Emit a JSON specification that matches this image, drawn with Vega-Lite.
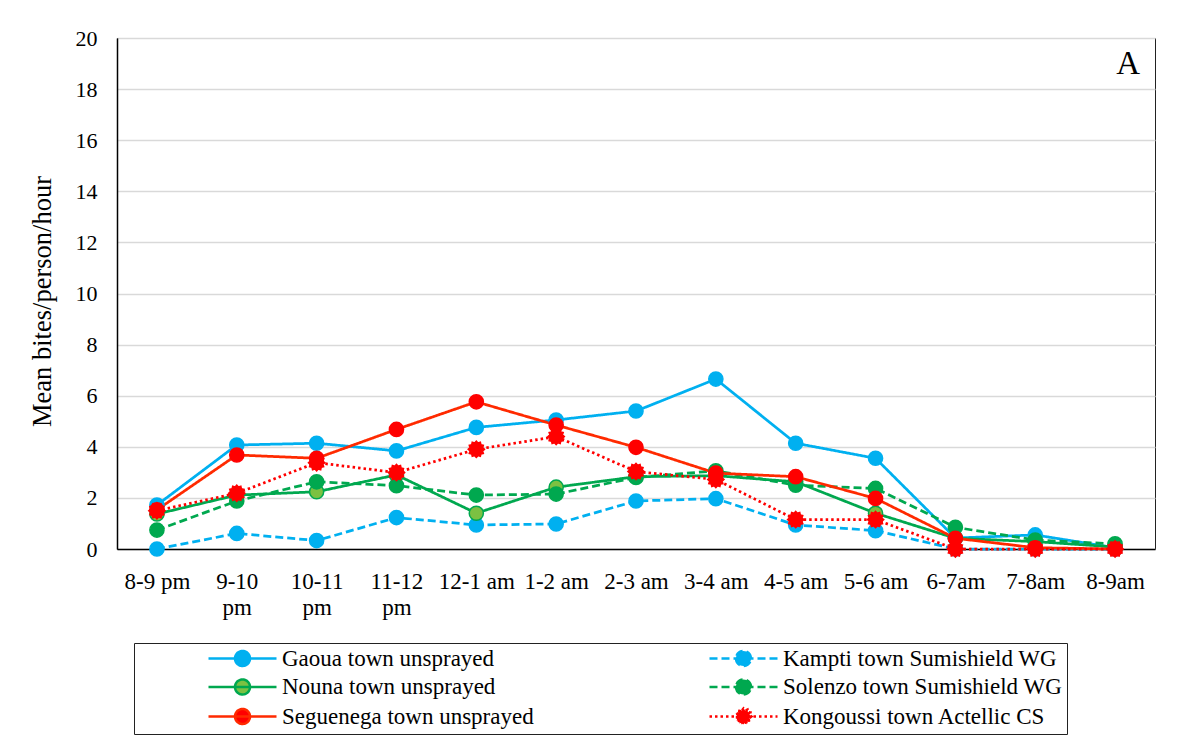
{
  "$schema": "https://vega.github.io/schema/vega-lite/v6.json",
  "width": 1038,
  "height": 511,
  "autosize": {"type": "none"},
  "padding": {"left": 117, "top": 38, "right": 36, "bottom": 195},
  "background": "white",
  "title": {
    "text": "A",
    "anchor": "end",
    "frame": "group",
    "orient": "top",
    "offset": -36,
    "baseline": "alphabetic",
    "dx": -15,
    "dy": 44,
    "font": "Liberation Serif",
    "fontSize": 33,
    "fontWeight": "normal",
    "color": "black"
  },
  "data": {
    "values": [
      {"time": "8-9 pm", "series": "Gaoua town unsprayed", "bites": 1.72},
      {"time": "9-10 pm", "series": "Gaoua town unsprayed", "bites": 4.07},
      {"time": "10-11 pm", "series": "Gaoua town unsprayed", "bites": 4.14},
      {"time": "11-12 pm", "series": "Gaoua town unsprayed", "bites": 3.84},
      {"time": "12-1 am", "series": "Gaoua town unsprayed", "bites": 4.76},
      {"time": "1-2 am", "series": "Gaoua town unsprayed", "bites": 5.05},
      {"time": "2-3 am", "series": "Gaoua town unsprayed", "bites": 5.4},
      {"time": "3-4 am", "series": "Gaoua town unsprayed", "bites": 6.65},
      {"time": "4-5 am", "series": "Gaoua town unsprayed", "bites": 4.14},
      {"time": "5-6 am", "series": "Gaoua town unsprayed", "bites": 3.55},
      {"time": "6-7am", "series": "Gaoua town unsprayed", "bites": 0.43},
      {"time": "7-8am", "series": "Gaoua town unsprayed", "bites": 0.55},
      {"time": "8-9am", "series": "Gaoua town unsprayed", "bites": 0.05},

      {"time": "8-9 pm", "series": "Kampti town Sumishield WG", "bites": 0},
      {"time": "9-10 pm", "series": "Kampti town Sumishield WG", "bites": 0.61},
      {"time": "10-11 pm", "series": "Kampti town Sumishield WG", "bites": 0.33},
      {"time": "11-12 pm", "series": "Kampti town Sumishield WG", "bites": 1.23},
      {"time": "12-1 am", "series": "Kampti town Sumishield WG", "bites": 0.94},
      {"time": "1-2 am", "series": "Kampti town Sumishield WG", "bites": 0.98},
      {"time": "2-3 am", "series": "Kampti town Sumishield WG", "bites": 1.88},
      {"time": "3-4 am", "series": "Kampti town Sumishield WG", "bites": 1.97},
      {"time": "4-5 am", "series": "Kampti town Sumishield WG", "bites": 0.94},
      {"time": "5-6 am", "series": "Kampti town Sumishield WG", "bites": 0.72},
      {"time": "6-7am", "series": "Kampti town Sumishield WG", "bites": 0},
      {"time": "7-8am", "series": "Kampti town Sumishield WG", "bites": 0},
      {"time": "8-9am", "series": "Kampti town Sumishield WG", "bites": 0},

      {"time": "8-9 pm", "series": "Nouna town unsprayed", "bites": 1.37},
      {"time": "9-10 pm", "series": "Nouna town unsprayed", "bites": 2.11},
      {"time": "10-11 pm", "series": "Nouna town unsprayed", "bites": 2.24},
      {"time": "11-12 pm", "series": "Nouna town unsprayed", "bites": 2.9},
      {"time": "12-1 am", "series": "Nouna town unsprayed", "bites": 1.4},
      {"time": "1-2 am", "series": "Nouna town unsprayed", "bites": 2.42},
      {"time": "2-3 am", "series": "Nouna town unsprayed", "bites": 2.83},
      {"time": "3-4 am", "series": "Nouna town unsprayed", "bites": 2.87},
      {"time": "4-5 am", "series": "Nouna town unsprayed", "bites": 2.63},
      {"time": "5-6 am", "series": "Nouna town unsprayed", "bites": 1.4},
      {"time": "6-7am", "series": "Nouna town unsprayed", "bites": 0.42},
      {"time": "7-8am", "series": "Nouna town unsprayed", "bites": 0.29},
      {"time": "8-9am", "series": "Nouna town unsprayed", "bites": 0.08},

      {"time": "8-9 pm", "series": "Solenzo town Sumishield WG", "bites": 0.74},
      {"time": "9-10 pm", "series": "Solenzo town Sumishield WG", "bites": 1.88},
      {"time": "10-11 pm", "series": "Solenzo town Sumishield WG", "bites": 2.63},
      {"time": "11-12 pm", "series": "Solenzo town Sumishield WG", "bites": 2.48},
      {"time": "12-1 am", "series": "Solenzo town Sumishield WG", "bites": 2.11},
      {"time": "1-2 am", "series": "Solenzo town Sumishield WG", "bites": 2.15},
      {"time": "2-3 am", "series": "Solenzo town Sumishield WG", "bites": 2.8},
      {"time": "3-4 am", "series": "Solenzo town Sumishield WG", "bites": 3.06},
      {"time": "4-5 am", "series": "Solenzo town Sumishield WG", "bites": 2.5},
      {"time": "5-6 am", "series": "Solenzo town Sumishield WG", "bites": 2.37},
      {"time": "6-7am", "series": "Solenzo town Sumishield WG", "bites": 0.85},
      {"time": "7-8am", "series": "Solenzo town Sumishield WG", "bites": 0.35},
      {"time": "8-9am", "series": "Solenzo town Sumishield WG", "bites": 0.2},

      {"time": "8-9 pm", "series": "Seguenega town unsprayed", "bites": 1.53},
      {"time": "9-10 pm", "series": "Seguenega town unsprayed", "bites": 3.68},
      {"time": "10-11 pm", "series": "Seguenega town unsprayed", "bites": 3.55},
      {"time": "11-12 pm", "series": "Seguenega town unsprayed", "bites": 4.68},
      {"time": "12-1 am", "series": "Seguenega town unsprayed", "bites": 5.76},
      {"time": "1-2 am", "series": "Seguenega town unsprayed", "bites": 4.85},
      {"time": "2-3 am", "series": "Seguenega town unsprayed", "bites": 3.98},
      {"time": "3-4 am", "series": "Seguenega town unsprayed", "bites": 2.97},
      {"time": "4-5 am", "series": "Seguenega town unsprayed", "bites": 2.83},
      {"time": "5-6 am", "series": "Seguenega town unsprayed", "bites": 1.98},
      {"time": "6-7am", "series": "Seguenega town unsprayed", "bites": 0.42},
      {"time": "7-8am", "series": "Seguenega town unsprayed", "bites": 0.05},
      {"time": "8-9am", "series": "Seguenega town unsprayed", "bites": 0},

      {"time": "8-9 pm", "series": "Kongoussi town Actellic CS", "bites": 1.5},
      {"time": "9-10 pm", "series": "Kongoussi town Actellic CS", "bites": 2.18},
      {"time": "10-11 pm", "series": "Kongoussi town Actellic CS", "bites": 3.38},
      {"time": "11-12 pm", "series": "Kongoussi town Actellic CS", "bites": 2.99},
      {"time": "12-1 am", "series": "Kongoussi town Actellic CS", "bites": 3.9},
      {"time": "1-2 am", "series": "Kongoussi town Actellic CS", "bites": 4.4},
      {"time": "2-3 am", "series": "Kongoussi town Actellic CS", "bites": 3.03},
      {"time": "3-4 am", "series": "Kongoussi town Actellic CS", "bites": 2.72},
      {"time": "4-5 am", "series": "Kongoussi town Actellic CS", "bites": 1.15},
      {"time": "5-6 am", "series": "Kongoussi town Actellic CS", "bites": 1.15},
      {"time": "6-7am", "series": "Kongoussi town Actellic CS", "bites": 0},
      {"time": "7-8am", "series": "Kongoussi town Actellic CS", "bites": 0},
      {"time": "8-9am", "series": "Kongoussi town Actellic CS", "bites": 0}
    ]
  },
  "encoding": {
    "x": {
      "field": "time",
      "type": "ordinal",
      "sort": ["8-9 pm", "9-10 pm", "10-11 pm", "11-12 pm", "12-1 am", "1-2 am", "2-3 am", "3-4 am", "4-5 am", "5-6 am", "6-7am", "7-8am", "8-9am"],
      "scale": {"type": "point", "padding": 0.5},
      "axis": {
        "title": null,
        "labelAngle": 0,
        "ticks": false,
        "labelFontSize": 23,
        "labelPadding": 21,
        "labelLineHeight": 26,
        "labelExpr": "indexof(['9-10 pm', '10-11 pm', '11-12 pm'], datum.value) >= 0 ? split(datum.value, ' ') : datum.value"
      }
    },
    "y": {
      "field": "bites",
      "type": "quantitative",
      "scale": {"domain": [0, 20], "nice": false},
      "axis": {
        "title": "Mean bites/person/hour",
        "values": [0, 2, 4, 6, 8, 10, 12, 14, 16, 18, 20],
        "ticks": false,
        "grid": true,
        "labelPadding": 20,
        "titlePadding": 19,
        "titleFontSize": 26.5,
        "titleY": 263
      }
    }
  },
  "layer": [
    {
      "mark": {"type": "line", "strokeWidth": 2.75},
      "encoding": {
        "color": {
          "field": "series",
          "type": "nominal",
          "scale": {
            "domain": ["Gaoua town unsprayed", "Nouna town unsprayed", "Seguenega town unsprayed", "Kampti town Sumishield WG", "Solenzo town Sumishield WG", "Kongoussi town Actellic CS"],
            "range": ["#00B0F0", "#00A84F", "#FF2A00", "#00B0F0", "#00A84F", "#FF0000"]
          },
          "legend": {
            "title": null,
            "orient": "none",
            "legendX": 17,
            "legendY": 605,
            "columns": 2,
            "strokeColor": "#222222",
            "padding": 4,
            "symbolType": "M-3.4,0L3.4,0M-0.75,0A0.75,0.75,0,1,0,0.75,0A0.75,0.75,0,1,0,-0.75,0Z",
            "symbolSize": 400,
            "symbolOffset": 93,
            "labelOffset": 28,
            "columnPadding": 105,
            "rowPadding": 3.5,
            "labelLimit": 800,
            "labelFont": "Liberation Serif",
            "labelFontSize": 23,
            "labelColor": "black",
            "labelExpr": "indexof(['Kampti town Sumishield WG', 'Solenzo town Sumishield WG', 'Kongoussi town Actellic CS'], datum.value) >= 0 ? datum.label + '                  ' : datum.label",
            "encode": {
              "labels": {
                "update": {
                  "font": {"value": "Liberation Serif"},
                  "fontSize": {"value": 23},
                  "fill": {"value": "black"}
                }
              },
              "symbols": {
                "update": {
                  "shape": {"signal": "datum.value === 'Kongoussi town Actellic CS' ? 'M-3.4,0L3.4,0M0.8,0L0.599,0.16L0.693,0.4L0.438,0.438L0.4,0.693L0.16,0.599L0,0.8L-0.16,0.599L-0.4,0.693L-0.438,0.438L-0.693,0.4L-0.599,0.16L-0.8,0L-0.599,-0.16L-0.693,-0.4L-0.438,-0.438L-0.4,-0.693L-0.16,-0.599L0,-0.8L0.16,-0.599L0.4,-0.693L0.438,-0.438L0.693,-0.4L0.599,-0.16Z' : 'M-3.4,0L3.4,0M-0.75,0A0.75,0.75,0,1,0,0.75,0A0.75,0.75,0,1,0,-0.75,0Z'"},
                  "fill": {"scale": "fill", "field": "value"},
                  "stroke": {"scale": "color", "field": "value"},
                  "strokeDash": {"scale": "strokeDash", "field": "value"},
                  "strokeWidth": {"value": 2.5},
                  "opacity": {"value": 1}
                }
              }
            }
          }
        },
        "strokeDash": {
          "field": "series",
          "type": "nominal",
          "scale": {
            "domain": ["Gaoua town unsprayed", "Nouna town unsprayed", "Seguenega town unsprayed", "Kampti town Sumishield WG", "Solenzo town Sumishield WG", "Kongoussi town Actellic CS"],
            "range": [[1, 0], [1, 0], [1, 0], [8, 4], [8, 4], [2.5, 3]]
          },
          "legend": null
        }
      }
    },
    {
      "transform": [{"filter": "datum.series !== 'Kongoussi town Actellic CS'"}],
      "mark": {"type": "point", "shape": "circle", "filled": true, "size": 200, "strokeWidth": 1.5, "opacity": 1},
      "encoding": {
        "fill": {
          "field": "series",
          "type": "nominal",
          "scale": {
            "domain": ["Gaoua town unsprayed", "Nouna town unsprayed", "Seguenega town unsprayed", "Kampti town Sumishield WG", "Solenzo town Sumishield WG", "Kongoussi town Actellic CS"],
            "range": ["#00B0F0", "#7CC142", "#FF0000", "#00B0F0", "#00A84F", "#FF0000"]
          },
          "legend": null
        },
        "stroke": {
          "field": "series",
          "type": "nominal",
          "scale": {
            "domain": ["Gaoua town unsprayed", "Nouna town unsprayed", "Seguenega town unsprayed", "Kampti town Sumishield WG", "Solenzo town Sumishield WG", "Kongoussi town Actellic CS"],
            "range": ["#00B0F0", "#00A84F", "#FF0000", "#00B0F0", "#00A84F", "#FF0000"]
          },
          "legend": null
        }
      }
    },
    {
      "transform": [{"filter": "datum.series === 'Kongoussi town Actellic CS'"}],
      "mark": {
        "type": "point",
        "filled": true,
        "size": 200,
        "strokeWidth": 1.5,
        "opacity": 1,
        "shape": "M1.15,0L0.889,0.238L0.996,0.575L0.651,0.651L0.575,0.996L0.238,0.889L0,1.15L-0.238,0.889L-0.575,0.996L-0.651,0.651L-0.996,0.575L-0.889,0.238L-1.15,0L-0.889,-0.238L-0.996,-0.575L-0.651,-0.651L-0.575,-0.996L-0.238,-0.889L0,-1.15L0.238,-0.889L0.575,-0.996L0.651,-0.651L0.996,-0.575L0.889,-0.238Z"
      },
      "encoding": {
        "fill": {
          "field": "series",
          "type": "nominal",
          "scale": {
            "domain": ["Gaoua town unsprayed", "Nouna town unsprayed", "Seguenega town unsprayed", "Kampti town Sumishield WG", "Solenzo town Sumishield WG", "Kongoussi town Actellic CS"],
            "range": ["#00B0F0", "#7CC142", "#FF0000", "#00B0F0", "#00A84F", "#FF0000"]
          },
          "legend": null
        },
        "stroke": {
          "field": "series",
          "type": "nominal",
          "scale": {
            "domain": ["Gaoua town unsprayed", "Nouna town unsprayed", "Seguenega town unsprayed", "Kampti town Sumishield WG", "Solenzo town Sumishield WG", "Kongoussi town Actellic CS"],
            "range": ["#00B0F0", "#00A84F", "#FF0000", "#00B0F0", "#00A84F", "#FF0000"]
          },
          "legend": null
        }
      }
    }
  ],
  "config": {
    "font": "Liberation Serif",
    "view": {"stroke": "#222222", "strokeWidth": 1},
    "axis": {
      "labelFont": "Liberation Serif",
      "labelFontSize": 22,
      "labelColor": "black",
      "titleFont": "Liberation Serif",
      "titleFontSize": 25,
      "titleFontWeight": "normal",
      "titleColor": "black",
      "domainColor": "black",
      "domainWidth": 1.5,
      "gridColor": "#d9d9d9",
      "gridWidth": 1.5
    },
    "legend": {
      "labelFont": "Liberation Serif",
      "labelFontSize": 23,
      "labelColor": "black"
    }
  }
}
